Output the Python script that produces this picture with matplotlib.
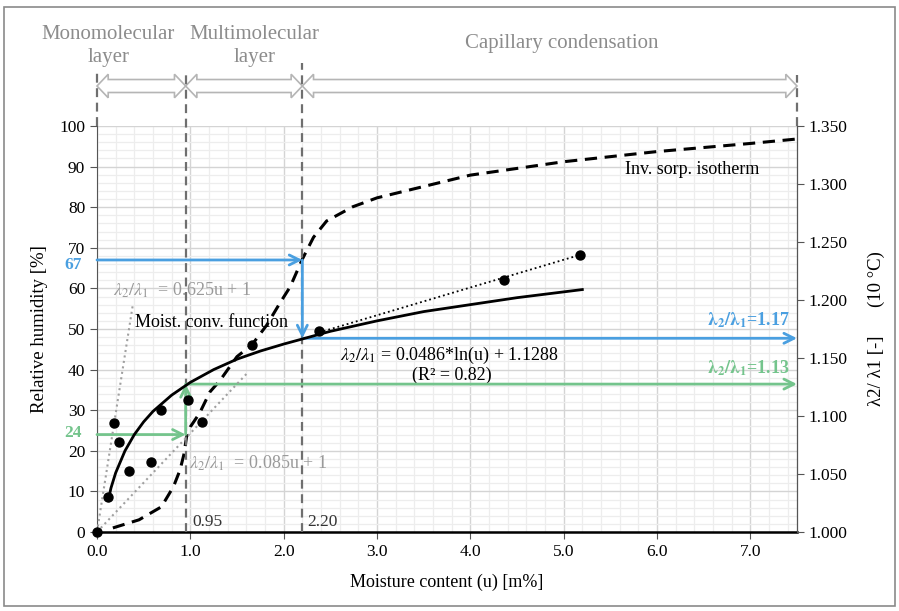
import matplotlib
matplotlib.use("Agg")
import matplotlib.pyplot as plt
from matplotlib.patches import Polygon, Rectangle
import numpy as np

plt.rcParams['font.family'] = ['Liberation Serif', 'DejaVu Serif']
plt.rcParams['mathtext.fontset'] = 'stix'

# measured points (lambda2/lambda1 vs moisture content)
dot_u = [0.0, 0.12, 0.18, 0.24, 0.34, 0.58, 0.69, 0.97, 1.12, 1.66, 2.38, 4.36, 5.17]
dot_lam = [1.000, 1.030, 1.094, 1.078, 1.053, 1.060, 1.105, 1.114, 1.095, 1.161, 1.173, 1.217, 1.239]

# moisture conversion function (log trend line)
fit_u = [0.12, 0.15, 0.2, 0.3, 0.4, 0.5, 0.6, 0.8, 1.0, 1.25, 1.5, 1.75, 2.0, 2.5, 3.0, 3.5, 4.0, 4.5, 5.2]
fit_lam = [1.027, 1.038, 1.051, 1.070, 1.084, 1.095, 1.104, 1.118, 1.129, 1.140, 1.149, 1.156, 1.162,
           1.173, 1.182, 1.190, 1.196, 1.202, 1.209]

# inverse sorption isotherm (relative humidity vs moisture content)
iso_u = [0.17, 0.45, 0.69, 0.82, 0.89, 0.93, 0.96, 1.0, 1.1, 1.21, 1.32, 1.5, 1.66, 1.82, 1.96, 2.07,
         2.2, 2.32, 2.46, 2.74, 3.0, 4.0, 5.0, 6.0, 7.0, 7.5]
iso_rh = [1.0, 3.0, 6.2, 11.2, 15.3, 19.0, 23.5, 25.9, 29.3, 34.5, 37.4, 43.2, 46.1, 51.0, 56.4, 60.4,
          67.2, 72.6, 76.6, 80.1, 82.3, 87.9, 91.2, 93.7, 95.7, 96.8]

# linear trend segments
lin1_u, lin1_lam = [0.0, 0.386], [1.000, 1.197]
lin2_u, lin2_lam = [0.0, 1.61], [1.000, 1.137]
lin3_u, lin3_lam = [2.38, 5.18], [1.172, 1.239]

# layer limits
limits = [0.0, 0.95, 2.2, 7.5]
layer_names = ["Monomolecular\nlayer", "Multimolecular\nlayer", "Capillary condensation"]

# read-off values
rh_hi, lam_hi = 67, 1.167
rh_lo, lam_lo = 24, 1.1275

blue = '#4A9FE0'
green = '#74C48C'
gray = '#8C8C8C'

fig = plt.figure(figsize=(8.99, 6.11), dpi=100)
fig.patches.append(Rectangle((4/899, 5/611), 891/899, 599/611, transform=fig.transFigure,
                             fill=False, edgecolor='#8a8a8a', lw=1.2))
ax = fig.add_axes([97/899, 79/611, 700/899, 406/611])
ax2 = ax.twinx()

ax.set_xlim(0, 7.5)
ax.set_ylim(0, 100)
ax2.set_ylim(1.0, 1.35)

ax.set_xticks(np.arange(0, 7.01, 1.0))
ax.set_xticks(np.arange(0, 7.51, 0.2), minor=True)
ax.set_yticks(np.arange(0, 101, 10))
ax.set_yticks(np.arange(0, 101, 2), minor=True)
ax.set_xticklabels(['%.1f' % v for v in np.arange(0, 7.01, 1.0)])
ax2.set_yticks(np.arange(1.0, 1.3501, 0.05))
ax2.set_yticklabels(['%.3f' % v for v in np.arange(1.0, 1.3501, 0.05)])

ax.grid(which='major', color='#d4d4d4', lw=1.0)
ax.grid(which='minor', color='#ededed', lw=0.9)
ax.set_axisbelow(True)

for a in (ax, ax2):
    a.spines['top'].set_visible(False)
ax.spines['left'].set_color('#555555')
ax.spines['bottom'].set_color('black')
ax.spines['bottom'].set_linewidth(1.8)
ax2.spines['right'].set_color('#555555')
ax2.spines['left'].set_visible(False)
ax2.spines['bottom'].set_visible(False)
ax.tick_params(which='minor', length=0)
ax.tick_params(axis='both', which='major', labelsize=12.5, length=5, color='#555555')
ax2.tick_params(axis='y', labelsize=12.5, length=5, color='#555555')

ax.set_xlabel('Moisture content (u) [m%]', fontsize=13, labelpad=10)
ax.set_ylabel('Relative humidity [%]', fontsize=13.5, labelpad=8)
ax2.set_ylabel('λ2/ λ1 [-]      (10 °C)', fontsize=13.5, labelpad=14)

# curves
ax.plot(iso_u, iso_rh, color='black', lw=2.2, dashes=(4, 2.5), zorder=4)
ax2.plot(lin1_u, lin1_lam, color='#a0a0a0', lw=1.5, ls=':', zorder=3)
ax2.plot(lin2_u, lin2_lam, color='#a0a0a0', lw=1.5, ls=':', zorder=3)
ax2.plot(lin3_u, lin3_lam, color='black', lw=1.3, ls=':', zorder=3)
ax2.plot(fit_u, fit_lam, color='black', lw=2.0, zorder=4)
ax2.scatter(dot_u, dot_lam, s=42, color='black', zorder=5, clip_on=False)

# vertical limits and top double arrows
trans = ax.get_xaxis_transform()
tops = [1.13, 1.13, 1.155, 1.126]
for x, t in zip(limits, tops):
    ax.plot([x, x], [0 if 0 < x < 7.5 else 1.0, t], transform=trans, color='#6f6f6f',
            lw=1.6, ls=(0, (4, 2.5)), clip_on=False, zorder=6)

yc, hs, hh, hl = 1.0985, 0.016, 0.029, 0.12
for a, b in zip(limits[:-1], limits[1:]):
    pts = [(a, yc), (a + hl, yc + hh), (a + hl, yc + hs), (b - hl, yc + hs), (b - hl, yc + hh),
           (b, yc), (b - hl, yc - hh), (b - hl, yc - hs), (a + hl, yc - hs), (a + hl, yc - hh)]
    ax.add_patch(Polygon(pts, closed=True, transform=trans, facecolor='white',
                         edgecolor='#b5b5b5', lw=1.2, clip_on=False, zorder=5))

ax.text(0.12, 1.197, layer_names[0], transform=trans, ha='center', va='center', fontsize=15,
        color=gray, linespacing=1.35)
ax.text(1.69, 1.197, layer_names[1], transform=trans, ha='center', va='center', fontsize=15,
        color=gray, linespacing=1.35)
ax.text(4.98, 1.202, layer_names[2], transform=trans, ha='center', va='center', fontsize=15,
        color=gray)

# read-off arrows
ap = dict(arrowstyle='->', lw=2.0, mutation_scale=18, shrinkA=0, shrinkB=0)
rh_mid = (lam_hi - 1.0) / 0.35 * 100
rh_low = (lam_lo - 1.0) / 0.35 * 100
ax.annotate('', xy=(limits[2], rh_hi), xytext=(0, rh_hi), arrowprops=dict(ap, color=blue), zorder=7)
ax.annotate('', xy=(limits[2], rh_mid), xytext=(limits[2], rh_hi), arrowprops=dict(ap, color=blue), zorder=7)
ax.annotate('', xy=(7.5, rh_mid), xytext=(limits[2], rh_mid), arrowprops=dict(ap, color=blue),
            zorder=7, annotation_clip=False)
ax.annotate('', xy=(limits[1], rh_lo), xytext=(0, rh_lo), arrowprops=dict(ap, color=green), zorder=7)
ax.annotate('', xy=(limits[1], rh_low), xytext=(limits[1], rh_lo), arrowprops=dict(ap, color=green), zorder=7)
ax.annotate('', xy=(7.5, rh_low), xytext=(limits[1], rh_low), arrowprops=dict(ap, color=green),
            zorder=7, annotation_clip=False)

ax.text(-0.16, rh_hi - 1.3, str(rh_hi), color=blue, fontsize=12.5, fontweight='bold', ha='right', va='center')
ax.text(-0.16, rh_lo + 0.4, str(rh_lo), color=green, fontsize=12.5, fontweight='bold', ha='right', va='center')
ax.text(7.42, 52.2, r'$\mathbf{\lambda_2/\lambda_1}$=1.17', color=blue, fontsize=13, fontweight='bold',
        ha='right', va='center')
ax.text(7.42, 40.4, r'$\mathbf{\lambda_2/\lambda_1}$=1.13', color=green, fontsize=13, fontweight='bold',
        ha='right', va='center')

# equation labels
ax.text(0.17, 59.6, r'$\lambda_2/\lambda_1$  = 0.625u + 1', color='#9a9a9a', fontsize=13, va='center')
ax.text(0.41, 51.5, 'Moist. conv. function', color='black', fontsize=13, va='center')
ax.text(0.99, 17.0, r'$\lambda_2/\lambda_1$  = 0.085u + 1', color='#9a9a9a', fontsize=13, va='center')
ax.text(3.77, 43.6, r'$\lambda_2/\lambda_1$ = 0.0486*ln(u) + 1.1288', color='black', fontsize=13,
        ha='center', va='center')
ax.text(3.8, 38.7, '(R² = 0.82)', color='black', fontsize=13, ha='center', va='center')
ax.text(5.66, 89.4, 'Inv. sorp. isotherm', color='black', fontsize=13, va='center')
ax.text(1.02, 2.5, '0.95', color='#333333', fontsize=12.5, va='center')
ax.text(2.25, 2.5, '2.20', color='#333333', fontsize=12.5, va='center')

fig.savefig('out.png', dpi=100)
